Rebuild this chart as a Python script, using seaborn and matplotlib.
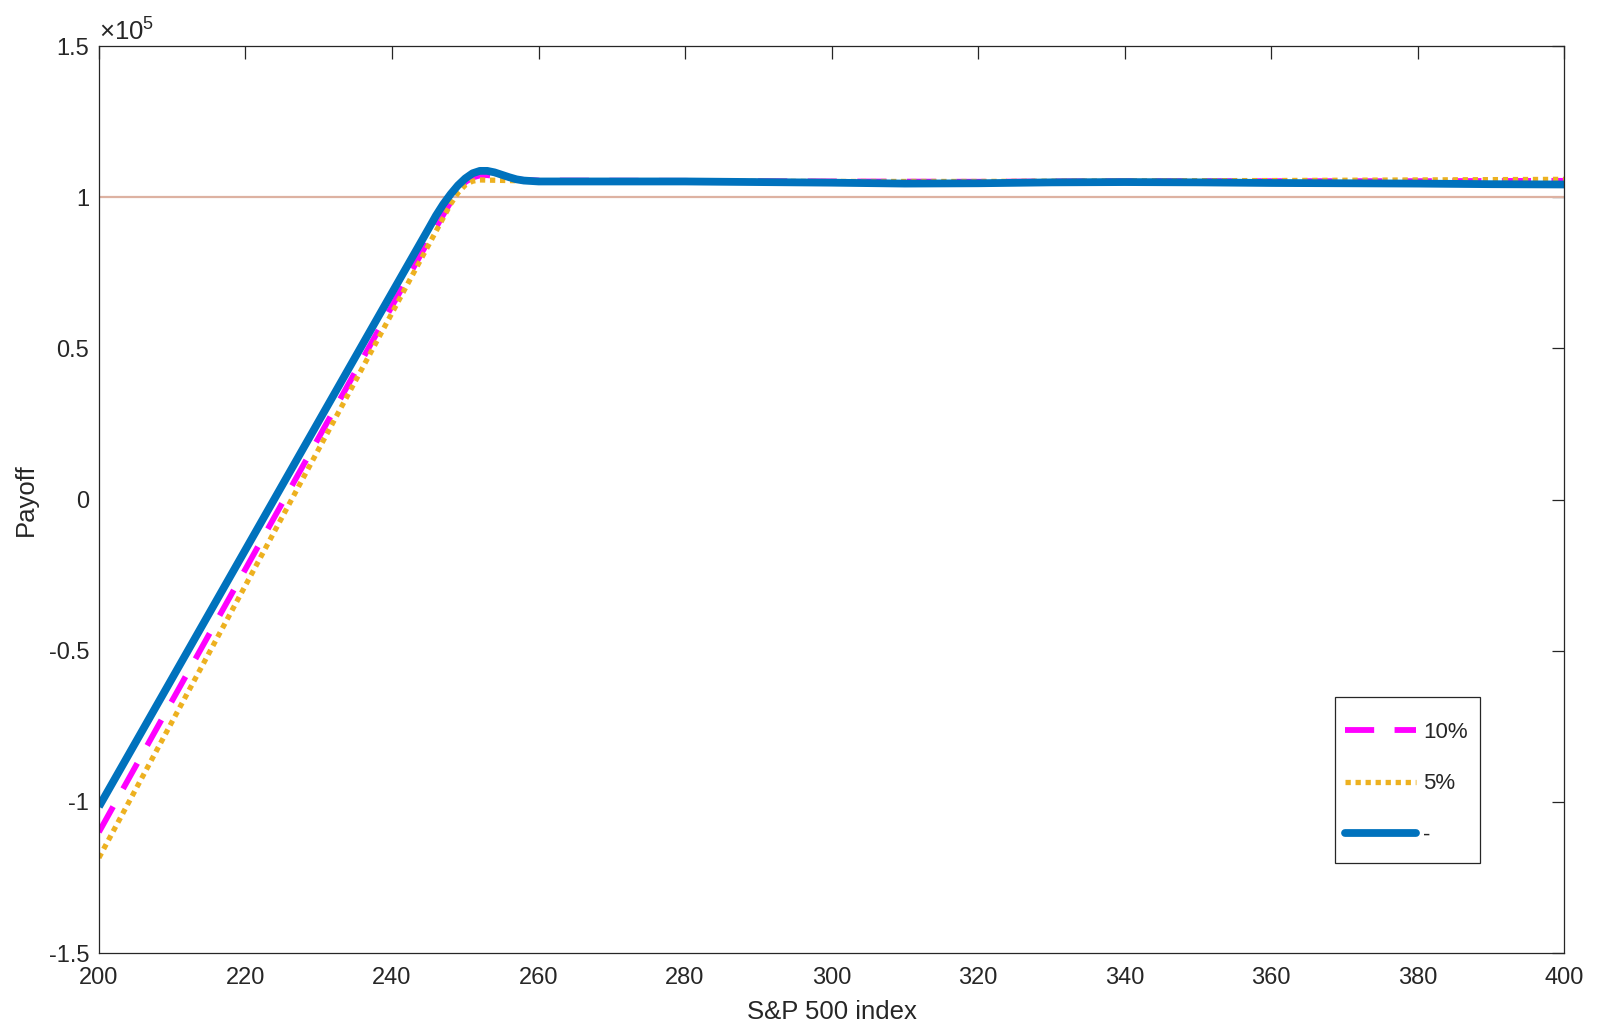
import numpy as np
import pandas as pd
import matplotlib
matplotlib.use("Agg")
import matplotlib.pyplot as plt
import seaborn as sns
from matplotlib.ticker import FixedLocator, FuncFormatter
from matplotlib.lines import Line2D
from matplotlib.patches import Rectangle

# ---------------- data ----------------
s_blue = [200, 210, 220, 230, 240, 245, 246, 247, 248, 249, 250, 251, 252, 253, 254,
          255, 256, 257, 258, 260, 270, 280, 290, 300, 310, 320, 330, 340, 350, 360,
          370, 380, 390, 400]
y_blue = [-101600, -59100, -16600, 25900, 68400, 89600, 93900, 97700, 101000, 103900,
          106200, 107900, 108700, 108700, 108200, 107400, 106600, 105900, 105500, 105200,
          105200, 105200, 105000, 104800, 104500, 104600, 104900, 105000, 104900, 104700,
          104600, 104500, 104300, 104200]

s_pink = [200, 210, 220, 230, 240, 245, 247, 248, 249, 250, 251, 252, 253, 254, 255,
          256, 258, 260, 280, 300, 320, 340, 360, 380, 400]
y_pink = [-110000, -66500, -23000, 20500, 64000, 85700, 94200, 98400, 102300, 105000,
          106500, 107200, 107300, 107000, 106600, 106200, 105700, 105500, 105400, 105200,
          105100, 105300, 105300, 105300, 105400]

s_orange = [200, 210, 220, 230, 240, 245, 248, 249, 250, 251, 252, 254, 258, 260, 280,
            300, 320, 340, 360, 380, 400]
y_orange = [-118500, -73400, -28400, 16700, 61700, 84200, 97700, 101400, 104000, 105300,
            105700, 105600, 105400, 105300, 105300, 105200, 105200, 105400, 105500, 105700,
            105900]

ref_level = 100000
series_labels = ["10%", "5%", "-"]
x_ticks = [200, 220, 240, 260, 280, 300, 320, 340, 360, 380, 400]
y_ticks = [-150000, -100000, -50000, 0, 50000, 100000, 150000]

df = pd.concat([
    pd.DataFrame({"S": s_pink, "payoff": y_pink, "series": series_labels[0]}),
    pd.DataFrame({"S": s_orange, "payoff": y_orange, "series": series_labels[1]}),
    pd.DataFrame({"S": s_blue, "payoff": y_blue, "series": series_labels[2]}),
])

# ---------------- style ----------------
sns.set_style("white")
plt.rcParams["font.family"] = ["Liberation Sans", "DejaVu Sans"]
plt.rcParams["mathtext.fontset"] = "custom"
plt.rcParams["mathtext.rm"] = "Liberation Sans"
plt.rcParams["mathtext.it"] = "Liberation Sans"
axc = "#262626"

fig = plt.figure(figsize=(16.06, 10.34), dpi=100)
ax = fig.add_axes([0.0616, 0.0783, 0.974 - 0.0616, 0.9555 - 0.0783])

ax.axhline(ref_level, color="#DDB2A2", lw=1.6, zorder=1)

palette = {series_labels[0]: "#FF00FF", series_labels[1]: "#EDB120", series_labels[2]: "#0072BD"}
sns.lineplot(data=df, x="S", y="payoff", hue="series", palette=palette,
             sort=False, estimator=None, ax=ax, legend=False)

lines = ax.get_lines()[1:]
styles = [dict(lw=4.2, dashes=(5, 3.5)),
          dict(lw=3.8, dashes=(1.0, 0.9)),
          dict(lw=5.6)]
for ln, st in zip(lines, styles):
    ln.set_linewidth(st["lw"])
    if "dashes" in st:
        ln.set_dashes(st["dashes"])
    ln.set_solid_capstyle("butt")
    ln.set_dash_capstyle("butt")

ax.set_xlim(200, 400)
ax.set_ylim(-150000, 150000)
ax.xaxis.set_major_locator(FixedLocator(x_ticks))
ax.yaxis.set_major_locator(FixedLocator(y_ticks))
ax.xaxis.set_major_formatter(FuncFormatter(lambda v, p: f"{v:g}"))
ax.yaxis.set_major_formatter(FuncFormatter(lambda v, p: f"{v/1e5:g}".replace("\u2212", "-")))

ax.tick_params(direction="in", length=9, width=0.9, color=axc, labelcolor=axc,
               labelsize=17, top=True, right=True, pad=7)
ax.tick_params(axis="x", pad=10)
for sp in ax.spines.values():
    sp.set_color(axc)
    sp.set_linewidth(0.9)
    sp.set_visible(True)

ax.set_xlabel("S&P 500 index", fontsize=18.5, color=axc, labelpad=8)
ax.set_ylabel("Payoff", fontsize=18.5, color=axc, labelpad=8)
ax.text(0.0, 1.0, "\u00d710$^{5}$", transform=ax.transAxes, fontsize=18.5,
        color=axc, ha="left", va="bottom")

handles = []
for lab, st in zip(series_labels, styles):
    h = Line2D([], [], color=palette[lab], lw=st["lw"])
    if "dashes" in st:
        h.set_dashes(st["dashes"])
    h.set_dash_capstyle("butt")
    handles.append(h)
leg = ax.legend(handles, series_labels, loc="upper left", bbox_to_anchor=(0.8505, 0.255),
                borderaxespad=0, fontsize=16, frameon=False,
                handlelength=3.2, handletextpad=0.3, labelspacing=1.38, borderpad=0)
# legend box outline
ax.add_patch(Rectangle((0.8437, 0.0992), 0.9427 - 0.8437, 0.2822 - 0.0992,
                       transform=ax.transAxes, fill=False, edgecolor=axc, lw=0.9, zorder=5))

fig.savefig("out.png", dpi=100, facecolor="white")
